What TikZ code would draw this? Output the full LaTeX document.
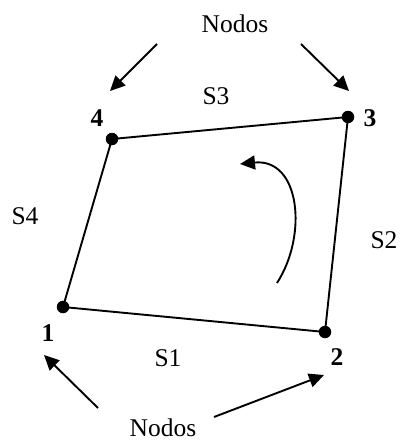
\documentclass[tikz,border=0pt]{standalone}
\usepackage{fontspec}
\setmainfont{Liberation Serif}
\usetikzlibrary{arrows.meta}
\begin{document}
\begin{tikzpicture}[x=1pt,y=-1pt,
  dotnode/.style={circle,fill=black,inner sep=0pt,minimum size=12.5pt},
  lbl/.style={inner sep=0pt,font=\fontsize{25.5}{30}\selectfont},
  num/.style={inner sep=0pt,font=\fontsize{25.5}{30}\selectfont\bfseries},
  edge/.style={line width=1.9pt},
  ptr/.style={line width=1.9pt,-{Triangle[length=15pt,width=14pt]}}]
\useasboundingbox (0,0) rectangle (400,441);
% nodes
\node[dotnode] (n1) at (63,307) {};
\node[dotnode] (n2) at (325,332) {};
\node[dotnode] (n3) at (348,117) {};
\node[dotnode] (n4) at (112,139) {};
% polygon edges
\draw[edge] (n1.center) -- (n2.center) -- (n3.center) -- (n4.center) -- cycle;
% labels
\node[lbl] (nodtop) at (235,24) {Nodos};
\node[lbl] (nodbot) at (163,428) {Nodos};
\node[lbl] (s1) at (168,358) {S1};
\node[lbl] (s2) at (384,240) {S2};
\node[lbl] (s3) at (216,96) {S3};
\node[lbl] (s4) at (25,216) {S4};
\node[num] (l1) at (48,333) {1};
\node[num] (l2) at (337,357) {2};
\node[num] (l3) at (370,118) {3};
\node[num] (l4) at (97,118) {4};
% pointer arrows
\coordinate (a1s) at (157,44);  \coordinate (a1e) at (110,91);
\coordinate (a2s) at (301,44);  \coordinate (a2e) at (349,91);
\coordinate (a3s) at (98,408);  \coordinate (a3e) at (44,355);
\coordinate (a4s) at (214,417); \coordinate (a4e) at (324,375);
\draw[ptr] (a1s) -- (a1e);
\draw[ptr] (a2s) -- (a2e);
\draw[ptr] (a3s) -- (a3e);
\draw[ptr] (a4s) -- (a4e);
% rotation arrow
\coordinate (rs) at (277,283);
\coordinate (re) at (240,164);
\draw[ptr] (rs) .. controls (308,235) and (300,158) .. (re);
\end{tikzpicture}
\end{document}
